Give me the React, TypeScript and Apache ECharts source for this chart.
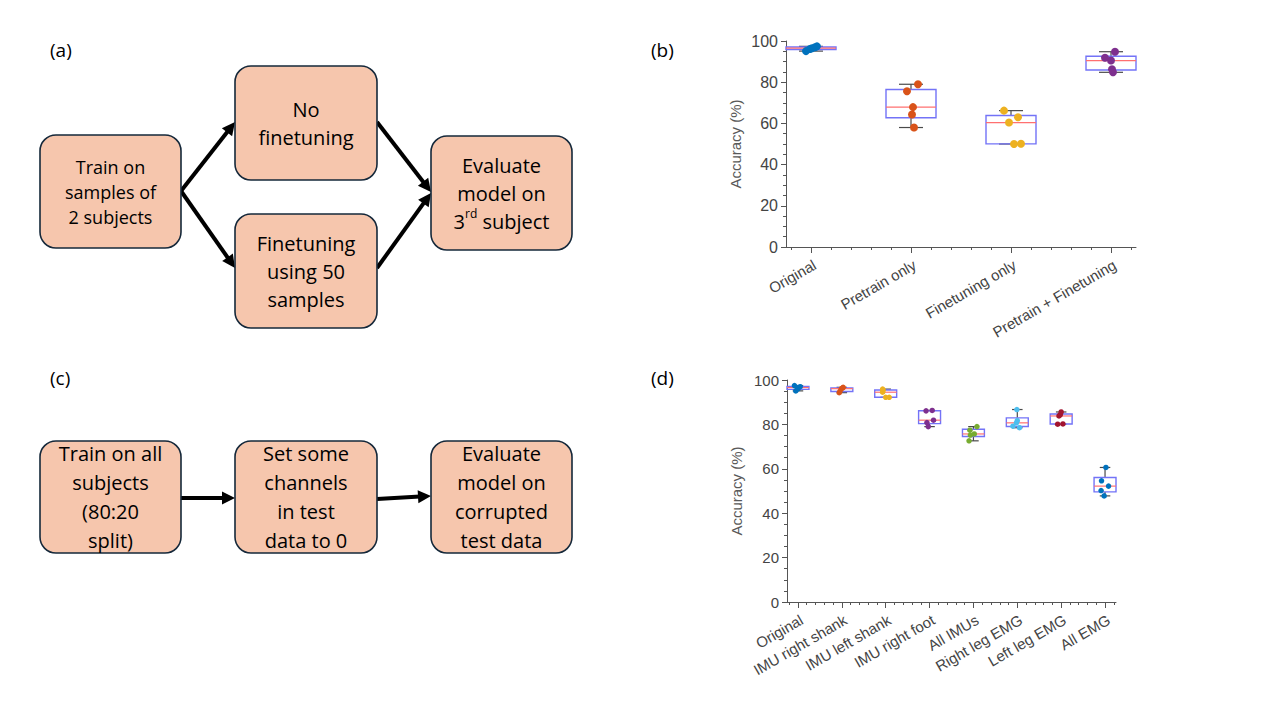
import React, { useEffect, useRef } from "react";
import * as echarts from "echarts";

// ---------- data: panel (b) ----------
const bCats = ["Original", "Pretrain only", "Finetuning only", "Pretrain + Finetuning"];
const bOriginal = [95.1, 96.1, 96.5, 97.0, 97.4];
const bPretrain = [58.0, 64.3, 67.9, 75.6, 79.0];
const bFinetune = [50.0, 50.1, 60.4, 63.0, 66.2];
const bBoth = [84.8, 86.3, 90.5, 91.9, 94.8];
const bJitter = [
  [-0.05, -0.01, 0.01, 0.04, 0.06],
  [0.03, 0.01, 0.02, -0.04, 0.07],
  [0.03, 0.1, -0.02, 0.07, -0.07],
  [0.02, 0.01, 0.0, -0.06, 0.04],
];
const bColors = ["#0072BD", "#D95319", "#EDB120", "#7E2F8E"];

// ---------- data: panel (d) ----------
const dCats = [
  "Original",
  "IMU right shank",
  "IMU left shank",
  "IMU right foot",
  "All IMUs",
  "Right leg EMG",
  "Left leg EMG",
  "All EMG",
];
const dOriginal = [95.1, 96.0, 96.6, 97.0, 97.5];
const dImuRShank = [94.3, 95.0, 96.1, 96.4, 96.7];
const dImuLShank = [92.2, 92.2, 94.5, 95.4, 95.9];
const dImuRFoot = [79.0, 80.8, 81.9, 86.1, 86.3];
const dAllImus = [72.6, 75.2, 75.7, 77.4, 79.0];
const dRightEmg = [78.5, 79.2, 80.7, 81.7, 86.7];
const dLeftEmg = [80.1, 80.2, 83.8, 84.4, 85.6];
const dAllEmg = [47.8, 50.2, 52.2, 54.6, 60.6];
const dJitter = [
  [-0.05, 0.0, 0.0, 0.05, -0.08],
  [-0.06, -0.04, -0.01, 0.02, 0.03],
  [0.0, 0.08, -0.07, -0.06, -0.07],
  [-0.03, -0.06, 0.09, -0.08, 0.06],
  [-0.1, -0.07, 0.02, -0.08, 0.08],
  [0.05, -0.1, -0.02, 0.0, -0.01],
  [-0.08, 0.04, -0.05, -0.02, 0.0],
  [-0.02, -0.09, 0.08, -0.08, 0.02],
];
const dColors = ["#0072BD", "#D95319", "#EDB120", "#7E2F8E", "#77AC30", "#4DBEEE", "#A2142F", "#0072BD"];

const yTicks = [0, 20, 40, 60, 80, 100];

// ---------- helpers ----------
function quant(sorted: number[], p: number) {
  const n = sorted.length;
  const pos = p * n - 0.5;
  if (pos <= 0) return sorted[0];
  if (pos >= n - 1) return sorted[n - 1];
  const lo = Math.floor(pos);
  return sorted[lo] + (pos - lo) * (sorted[lo + 1] - sorted[lo]);
}
function boxStats(pts: number[], idx: number) {
  const s = [...pts].sort((a, b) => a - b);
  return [idx + 1, s[0], quant(s, 0.25), quant(s, 0.5), quant(s, 0.75), s[s.length - 1]];
}
function stepTicks(min: number, max: number) {
  const out: number[] = [];
  for (let k = Math.ceil(min * 5); k <= Math.floor(max * 5); k++) out.push(Math.round(k * 2) / 10);
  return out;
}

const AXIS = "#555555";
const LABEL = "#444444";
const FONT = '"Liberation Sans", Arial, sans-serif';
const BOXFONT = '"Open Sans", sans-serif';

function arrow(x1: number, y1: number, x2: number, y2: number) {
  const head = 13;
  const hw = 6.5;
  const dx = x2 - x1;
  const dy = y2 - y1;
  const L = Math.hypot(dx, dy);
  const ux = dx / L;
  const uy = dy / L;
  const bx = x2 - ux * head;
  const by = y2 - uy * head;
  return [
    {
      type: "line",
      shape: { x1, y1, x2: bx + ux * 2, y2: by + uy * 2 },
      style: { stroke: "#000", lineWidth: 4 },
    },
    {
      type: "polygon",
      shape: {
        points: [
          [x2, y2],
          [bx - uy * hw, by + ux * hw],
          [bx + uy * hw, by - ux * hw],
        ],
      },
      style: { fill: "#000" },
    },
  ];
}

function box(x: number, y: number, w: number, h: number, text: string, fontSize: number, lineHeight: number, rich?: any) {
  return [
    {
      type: "rect",
      shape: { x, y, width: w, height: h, r: 16 },
      style: { fill: "#F6C6AD", stroke: "#15283A", lineWidth: 1.6 },
    },
    {
      type: "text",
      x: x + w / 2,
      y: y + h / 2,
      style: {
        text,
        align: "center",
        verticalAlign: "middle",
        fontSize,
        lineHeight,
        fontFamily: BOXFONT,
        fill: "#000",
        rich,
      },
    },
  ];
}

function panelLabel(x: number, y: number, t: string) {
  return {
    type: "text",
    x,
    y,
    style: { text: t, fontSize: 19, fontFamily: BOXFONT, fill: "#000", verticalAlign: "middle" },
  };
}

function makeBoxSeries(groups: number[][], xi: number, yi: number) {
  return {
    type: "custom",
    xAxisIndex: xi,
    yAxisIndex: yi,
    clip: false,
    z: 2,
    data: groups.map((g, i) => boxStats(g, i)),
    renderItem: (_p: any, api: any) => {
      const x = api.value(0);
      const mn = api.value(1);
      const q1 = api.value(2);
      const md = api.value(3);
      const q3 = api.value(4);
      const mx = api.value(5);
      const hw = api.size([0.25, 0])[0];
      const cw = api.size([0.12, 0])[0];
      const c = api.coord([x, md]);
      const yMn = api.coord([x, mn])[1];
      const yQ1 = api.coord([x, q1])[1];
      const yQ3 = api.coord([x, q3])[1];
      const yMx = api.coord([x, mx])[1];
      const wl = { stroke: "#4a4a4a", lineWidth: 1.2 };
      return {
        type: "group",
        children: [
          { type: "line", shape: { x1: c[0], y1: yMx, x2: c[0], y2: yQ3 }, style: wl },
          { type: "line", shape: { x1: c[0], y1: yQ1, x2: c[0], y2: yMn }, style: wl },
          { type: "line", shape: { x1: c[0] - cw, y1: yMx, x2: c[0] + cw, y2: yMx }, style: wl },
          { type: "line", shape: { x1: c[0] - cw, y1: yMn, x2: c[0] + cw, y2: yMn }, style: wl },
          {
            type: "rect",
            shape: { x: c[0] - hw, y: yQ3, width: 2 * hw, height: yQ1 - yQ3 },
            style: { fill: "none", stroke: "#7373F7", lineWidth: 1.4 },
          },
          {
            type: "line",
            shape: { x1: c[0] - hw, y1: c[1], x2: c[0] + hw, y2: c[1] },
            style: { stroke: "#FF7070", lineWidth: 1.2 },
          },
        ],
      };
    },
  };
}

function makeScatter(groups: number[][], jit: number[][], colors: string[], size: number, xi: number, yi: number) {
  const data: any[] = [];
  groups.forEach((g, i) => {
    g.forEach((v, k) => {
      data.push({ value: [i + 1 + jit[i][k], v], itemStyle: { color: colors[i], opacity: 1 } });
    });
  });
  return {
    type: "scatter",
    xAxisIndex: xi,
    yAxisIndex: yi,
    symbolSize: size,
    itemStyle: { opacity: 1 },
    z: 3,
    data,
  };
}

function xMinor(grid: number, min: number, max: number) {
  return {
    type: "value",
    gridIndex: grid,
    min,
    max,
    position: "bottom",
    axisLine: { show: true, onZero: false, lineStyle: { color: AXIS, width: 1 } },
    axisTick: { show: true, length: 3, customValues: stepTicks(min, max), lineStyle: { color: AXIS } },
    axisLabel: { show: false },
    splitLine: { show: false },
  };
}
function xMajor(grid: number, min: number, max: number, cats: string[]) {
  const vals = cats.map((_, i) => i + 1);
  return {
    type: "value",
    gridIndex: grid,
    min,
    max,
    position: "bottom",
    axisLine: { show: false, onZero: false },
    axisTick: { show: true, length: 6, customValues: vals, lineStyle: { color: AXIS } },
    axisLabel: {
      show: true,
      customValues: vals,
      rotate: 30,
      margin: 10,
      verticalAlign: "top",
      fontSize: 15,
      fontFamily: FONT,
      color: LABEL,
      formatter: (v: number) => cats[Math.round(v) - 1] ?? "",
    },
    splitLine: { show: false },
  };
}
function yAx(grid: number, fs: number) {
  return {
    type: "value",
    gridIndex: grid,
    min: 0,
    max: 100,
    interval: 20,
    name: "Accuracy (%)",
    nameLocation: "middle",
    nameGap: 43,
    nameTextStyle: { fontSize: 15, fontFamily: FONT, color: "#595959" },
    axisLine: { show: true, lineStyle: { color: AXIS, width: 1 } },
    axisTick: { show: true, length: 5, lineStyle: { color: AXIS } },
    minorTick: { show: true, splitNumber: 4, length: 3, lineStyle: { color: AXIS } },
    axisLabel: {
      fontSize: fs,
      fontFamily: FONT,
      color: LABEL,
      margin: 8,
      customValues: yTicks,
    },
    splitLine: { show: false },
    minorSplitLine: { show: false },
  };
}

export default function App() {
  const ref = useRef<HTMLDivElement>(null);
  useEffect(() => {
    if (!ref.current) return;
    const chart = echarts.init(ref.current, undefined, { renderer: "svg" });
    const bGroups = [bOriginal, bPretrain, bFinetune, bBoth];
    const dGroups = [dOriginal, dImuRShank, dImuLShank, dImuRFoot, dAllImus, dRightEmg, dLeftEmg, dAllEmg];

    const rich = {
      n: { fontSize: 20, fontFamily: BOXFONT, lineHeight: 28, fill: "#000" },
      s: { fontSize: 12, fontFamily: BOXFONT, lineHeight: 21, verticalAlign: "top", fill: "#000" },
    };

    const elements: any[] = [
      panelLabel(50, 50, "(a)"),
      panelLabel(50, 378, "(c)"),
      panelLabel(651, 50, "(b)"),
      panelLabel(651, 378, "(d)"),
      ...arrow(181, 191, 235, 122),
      ...arrow(181, 191, 235, 268),
      ...arrow(377, 122, 431, 192),
      ...arrow(377, 268, 431, 193),
      ...arrow(181, 498, 235, 498),
      ...arrow(377, 499, 431, 496),
      ...box(40, 135, 141, 113, "Train on\nsamples of\n2 subjects", 18, 25),
      ...box(235, 66, 142, 114, "No\nfinetuning", 20, 28),
      ...box(235, 214, 142, 114, "Finetuning\nusing 50\nsamples", 20, 28),
      ...box(431, 136, 141, 114, "{n|Evaluate}\n{n|model on}\n{n|3}{s|rd}{n| subject}", 20, 28, rich),
      ...box(40, 441, 141, 112, "Train on all\nsubjects\n(80:20\nsplit)", 20, 29),
      ...box(235, 441, 142, 112, "Set some\nchannels\nin test\ndata to 0", 20, 29),
      ...box(431, 441, 141, 112, "Evaluate\nmodel on\ncorrupted\ntest data", 20, 29),
    ];

    chart.setOption({
      animation: false,
      backgroundColor: "#ffffff",
      grid: [
        { left: 786, top: 41, width: 350, height: 206 },
        { left: 787, top: 380, width: 329, height: 222 },
      ],
      xAxis: [
        xMinor(0, 0.75, 4.25),
        xMajor(0, 0.75, 4.25, bCats),
        xMinor(1, 0.75, 8.25),
        xMajor(1, 0.75, 8.25, dCats),
      ],
      yAxis: [yAx(0, 16), yAx(1, 15)],
      series: [
        makeBoxSeries(bGroups, 0, 0),
        makeScatter(bGroups, bJitter, bColors, 8, 0, 0),
        makeBoxSeries(dGroups, 2, 1),
        makeScatter(dGroups, dJitter, dColors, 5.5, 2, 1),
      ],
      graphic: { elements },
    });
    return () => chart.dispose();
  }, []);
  return (
    <div
      ref={ref}
      style={{ position: "absolute", left: 0, top: 0, width: 1280, height: 720, background: "#fff" }}
    />
  );
}
